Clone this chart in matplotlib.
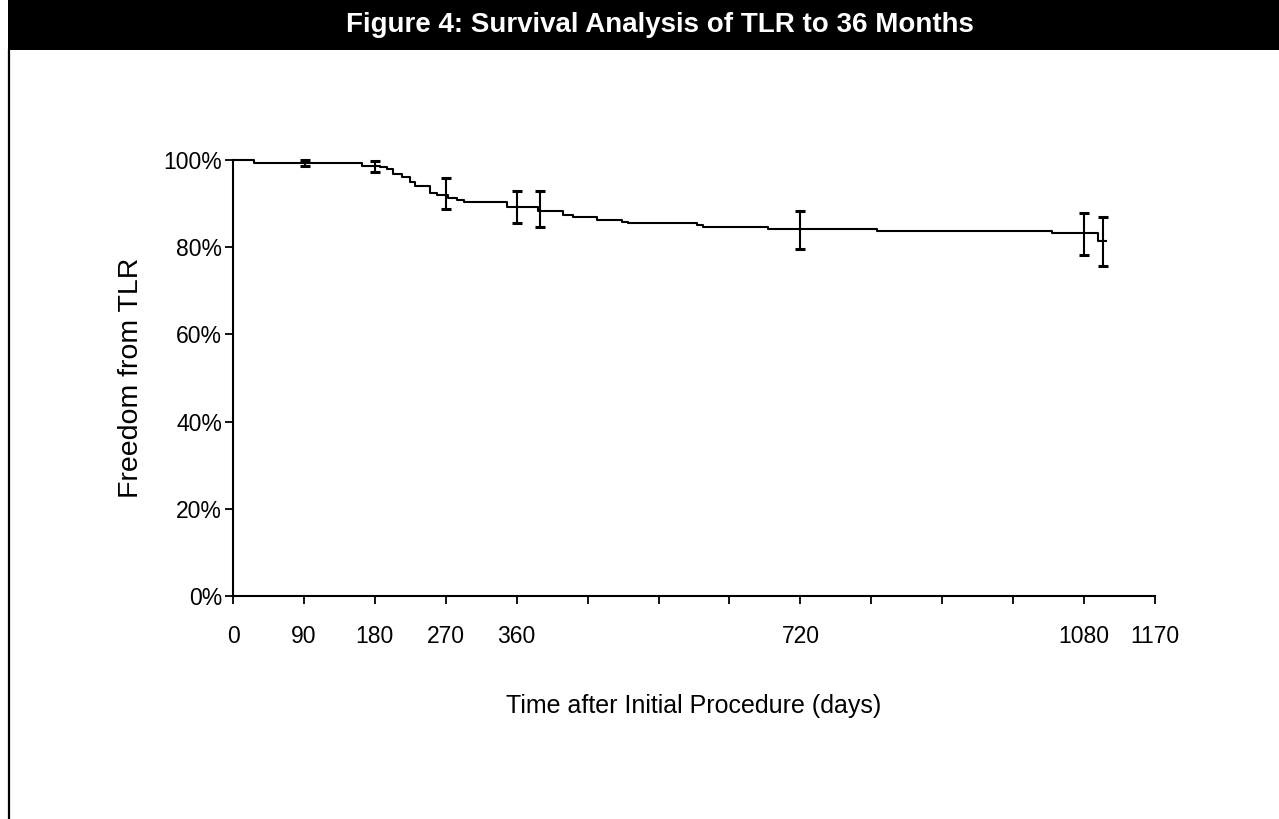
import numpy as np
import matplotlib
matplotlib.use("Agg")
import matplotlib.pyplot as plt
from matplotlib.patches import Rectangle

# Kaplan-Meier step estimate (days, % free from TLR)
km_days = [0, 27, 164, 187, 195, 203, 214, 225, 231, 250, 259, 273, 284, 293,
           348, 387, 419, 431, 462, 494, 501, 589, 596, 679, 817, 1039, 1098, 1108]
km_surv = [100, 99.3, 98.7, 98.5, 97.9, 96.9, 96.2, 95.0, 94.1, 92.5, 92.0, 91.3,
           90.8, 90.3, 89.3, 88.4, 87.4, 87.0, 86.3, 85.8, 85.5, 85.1, 84.7, 84.1,
           83.7, 83.2, 81.4, 81.4]

# confidence intervals
ci_days = [91, 180, 270, 360, 390, 720, 1080, 1104]
ci_lower = [98.6, 97.2, 88.8, 85.6, 84.6, 79.5, 78.2, 75.8]
ci_upper = [99.9, 99.8, 95.8, 93.0, 93.0, 88.4, 87.8, 87.0]

x_ticks = list(range(0, 1171, 90))
x_labels = ["0", "90", "180", "270", "360", "", "", "", "720", "", "", "", "1080", "1170"]
y_ticks = [0, 20, 40, 60, 80, 100]
y_labels = ["0%", "20%", "40%", "60%", "80%", "100%"]

plt.rcParams["font.family"] = ["Liberation Sans", "DejaVu Sans"]

W, H = 1279, 819
fig = plt.figure(figsize=(W / 100, H / 100), dpi=100)
fig.patch.set_facecolor("white")

# header bar and page border
fig.patches.append(Rectangle((8 / W, 1 - 50 / H), 1 - 8 / W, 50 / H,
                             transform=fig.transFigure, facecolor="black",
                             edgecolor="none", zorder=0))
fig.lines.append(plt.Line2D([9 / W, 9 / W], [0, 1 - 50 / H], transform=fig.transFigure,
                            color="black", lw=1.6))
fig.text(660 / W, 1 - 25 / H, "Figure 4: Survival Analysis of TLR to 36 Months",
         color="white", fontsize=20, fontweight="bold", ha="center", va="center")

ax = fig.add_axes([233 / W, 1 - 596 / H, (1155 - 233) / W, (596 - 160) / H])

ax.plot(km_days, km_surv, drawstyle="steps-post", color="black", lw=1.5, clip_on=False)

lo = np.array(ci_lower)
hi = np.array(ci_upper)
ax.errorbar(ci_days, (lo + hi) / 2, yerr=(hi - lo) / 2, fmt="none", ecolor="black",
            elinewidth=1.5, capsize=3.8, capthick=2.2, clip_on=False)

ax.set_xlim(0, 1170)
ax.set_ylim(0, 100)
ax.set_xticks(x_ticks)
ax.set_xticklabels(x_labels)
ax.set_yticks(y_ticks)
ax.set_yticklabels(y_labels)

for s in ["top", "right"]:
    ax.spines[s].set_visible(False)
for s in ["left", "bottom"]:
    ax.spines[s].set_linewidth(1.5)

ax.tick_params(axis="x", direction="out", length=6, width=1.3, labelsize=16.5, pad=15)
ax.tick_params(axis="y", direction="out", length=6, width=1.3, labelsize=16.5, pad=2)

ax.set_xlabel("Time after Initial Procedure (days)", fontsize=18, labelpad=33)
ax.set_ylabel("Freedom from TLR", fontsize=20.5, labelpad=14)

fig.savefig("out.png", dpi=100)
